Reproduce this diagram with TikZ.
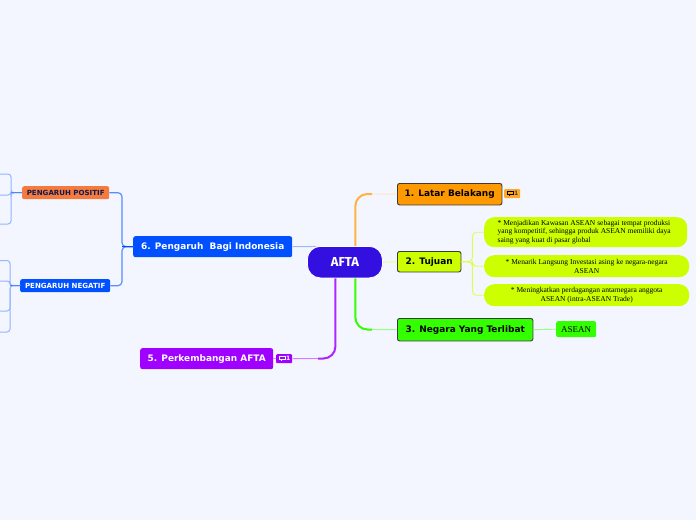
\documentclass[tikz,border=0pt]{standalone}
\usepackage{fontspec}
\setmainfont{DejaVu Sans}
\newfontfamily\leaffont{Liberation Serif}
\newfontfamily\titlefont{Fira Sans}
\usetikzlibrary{calc}
\definecolor{bgc}{HTML}{F3F6FF}
\definecolor{rootc}{HTML}{3310E0}
\definecolor{orangec}{HTML}{FF9900}
\definecolor{limec}{HTML}{CCFF00}
\definecolor{greenc}{HTML}{33FF00}
\definecolor{bluec}{HTML}{0050FF}
\definecolor{purplec}{HTML}{A000FF}
\definecolor{posc}{HTML}{F47A3E}
\definecolor{edgec}{HTML}{3A3A3A}
\definecolor{navyc}{HTML}{101A50}
\tikzset{
 box/.style={rounded corners=2.2pt,inner sep=0pt,font=\bfseries\fontsize{8.95}{10}\selectfont},
 outl/.style={box,draw=edgec,line width=.9pt,text=black},
 flat/.style={box,draw=none,text=white},
 small/.style={rounded corners=2pt,inner sep=0pt,font=\bfseries\fontsize{7.05}{8}\selectfont},
 leaf/.style={fill=limec,rounded corners=10pt,inner sep=0pt,text=black,align=center,font=\leaffont\fontsize{7.5}{8.8}\selectfont},
 badge/.style={rounded corners=1pt,inner sep=0pt,minimum width=16pt,minimum height=9pt,anchor=north west,font=\bfseries\fontsize{6}{6}\selectfont},
 conn/.style={line width=.9pt,rounded corners=4pt},
 bold/.style={line width=2pt,rounded corners=12pt},
 twig/.style={line width=1pt,rounded corners=3pt,draw=bluec!42!white},
}
\newcommand{\boxat}[7][]{\node[#2,minimum width=#5pt,minimum height=#6pt,anchor=north west,#1] (#3) at (#4) {#7};}
\newcommand{\dn}[1]{\raisebox{-.7pt}{#1}}
\begin{document}
\begin{tikzpicture}[x=1pt,y=-1pt]
\useasboundingbox (0,0) rectangle (696,520);
\fill[bgc] (0,0) rectangle (696,520);
% coordinates for free ends
\coordinate (pa) at (-3,174); \coordinate (pb) at (-3,195); \coordinate (pc) at (-3,224);
\coordinate (na) at (-3,260.5); \coordinate (nb) at (-3,281); \coordinate (nc) at (-3,311); \coordinate (nd) at (-3,332);
\coordinate (o1) at (372,194); \coordinate (g1) at (372,329.5); \coordinate (v1) at (318,358.5);
% nodes
\node[fill=rootc,draw=white,line width=.8pt,rounded corners=13pt,minimum width=75pt,minimum height=31.5pt,text=white,inner sep=0pt,anchor=north west,font=\titlefont\bfseries\fontsize{13}{15}\selectfont] (root) at (307,246) {AFTA};
\boxat[fill=orangec]{outl}{t1}{397,183}{104.5}{21.5}{\dn{1. Latar Belakang}}
\boxat[fill=limec]{outl}{t2}{397,251}{63.5}{20.5}{\dn{2. Tujuan}}
\boxat[fill=greenc]{outl}{t3}{397,318}{135.5}{22.5}{\dn{3. Negara Yang Terlibat}}
\boxat[fill=bluec]{flat}{t6}{133,236}{159}{21}{\dn{6. Pengaruh\ \ Bagi Indonesia}}
\boxat[fill=purplec]{flat}{t5}{140,348}{133}{21}{\dn{5. Perkembangan AFTA}}
\boxat[fill=posc,text=navyc]{small}{pos}{22,186}{87}{13}{PENGARUH POSITIF}
\boxat[fill=bluec,text=white]{small}{neg}{20,279}{90}{13}{PENGARUH NEGATIF}
\node[leaf,anchor=north west,minimum width=203pt,minimum height=30pt] (l1) at (484,217) {\raisebox{-1pt}{\parbox{176pt}{\raggedright* Menjadikan Kawasan ASEAN sebagai tempat produksi\\ yang kompetitif, sehingga produk ASEAN memiliki daya\\ saing yang kuat di pasar global}}};
\node[leaf,anchor=north west,minimum width=205pt,minimum height=22pt] (l2) at (484,255) {* Menarik Langsung Investasi asing ke negara-negara\\ASEAN};
\node[leaf,anchor=north west,minimum width=205pt,minimum height=22pt] (l3) at (484,284) {* Meningkatkan perdagangan antarnegara anggota\\ASEAN (intra-ASEAN Trade)};
\node[fill=greenc,rounded corners=2pt,anchor=north west,minimum width=40pt,minimum height=16pt,inner sep=0pt,text=black,font=\leaffont\fontsize{9}{10}\selectfont] (as) at (556,321) {ASEAN};
\node[badge,fill=orangec!85!white,text=black!75] (b1) at (504,189) {\hspace*{8pt}1};
\node[badge,fill=purplec,text=white] (b5) at (276,354) {\hspace*{8pt}1};
\draw[black,line width=.8pt] ($(b1.west)+(3,-2)$) rectangle ($(b1.west)+(9,1)$) ($(b1.west)+(5,1)$) -- ($(b1.west)+(5,2.5)$);
\draw[white,line width=.8pt] ($(b5.west)+(3,-2)$) rectangle ($(b5.west)+(9,1)$) ($(b5.west)+(5,1)$) -- ($(b5.west)+(5,2.5)$);
% connectors
\draw[bold,orangec!75!white] ($(root.north)+(10.5,0)$) |- (o1);
\draw[conn,orangec!25!white] (o1) -- (t1.west);
\draw[conn,limec!50!white] (root.east) -- (t2.west);
\draw[bold,greenc] ($(root.south)+(10.5,0)$) |- (g1);
\draw[conn,greenc!50!white] (g1) -- (t3.west);
\draw[conn,greenc!50!white] (t3.east) -- (as.west);
\draw[bold,purplec!85!white] ($(root.south)+(-9.5,0)$) |- (v1);
\draw[conn,purplec!50!white] (v1) -- (b5.east);
\draw[conn,purplec!40!white] (t5.east) -- (b5.west);
\draw[conn,bluec!40!white] (t6.east) -- ($(root.north west)+(9,.5)$);
\draw[conn,limec!70!white] (t2.east) -- ++(11,0) |- (l1.west);
\draw[conn,limec!70!white] (t2.east) -- ++(11,0) |- (l2.west);
\draw[conn,limec!70!white] (t2.east) -- ++(11,0) |- (l3.west);
\draw[conn,bluec!65!white,line width=1.2pt] (t6.west) -- ++(-11,0) |- (pos.east);
\draw[conn,bluec!65!white,line width=1.2pt] (t6.west) -- ++(-11,0) |- (neg.east);
\draw[bluec,line width=1.2pt] (t6.west) -- ++(-11,0);
\draw[twig] (pos.west) -- ++(-11,0) |- (pa);
\draw[twig] (pos.west) -- ++(-11,0) |- (pc);
\draw[twig] (pos.west) -- ++(-11,0) |- (pb);
\draw[twig] (neg.west) -- ++(-10,0) |- (na);
\draw[twig] (neg.west) -- ++(-10,0) |- (nb);
\draw[twig] (neg.west) -- ++(-10,0) |- (nc);
\draw[twig] (neg.west) -- ++(-10,0) |- (nd);
\draw[bluec!70!white,line width=1.2pt] (pos.west) -- ++(-11,0);
\draw[bluec!70!white,line width=1.2pt] (neg.west) -- ++(-10,0);
\end{tikzpicture}
\end{document}
